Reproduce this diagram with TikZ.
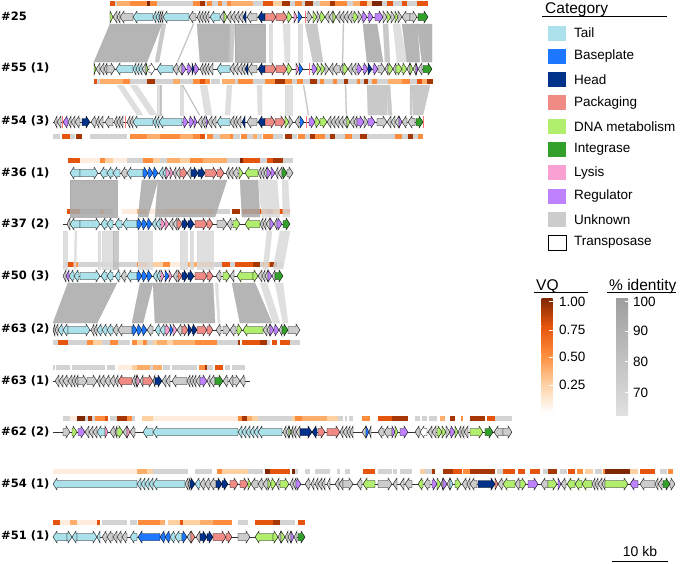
\documentclass[tikz,border=0pt]{standalone}
\usepackage{fontspec}
\setmainfont{Liberation Sans}
\newfontfamily\lblfont{DejaVu Sans}
\usepackage{tikz}
\usepackage{xcolor}

\definecolor{catT}{HTML}{ABE1EA}
\definecolor{catB}{HTML}{1E78FF}
\definecolor{catH}{HTML}{02318A}
\definecolor{catP}{HTML}{F08A85}
\definecolor{catD}{HTML}{B2EE6E}
\definecolor{catI}{HTML}{33A02C}
\definecolor{catL}{HTML}{FAA0D2}
\definecolor{catR}{HTML}{BE82FF}
\definecolor{catU}{HTML}{CCCCCC}
\definecolor{catX}{HTML}{FFFFFF}
\definecolor{vq0}{HTML}{D3D3D3}
\definecolor{vq1}{HTML}{FEEDDE}
\definecolor{vq2}{HTML}{FDD0A2}
\definecolor{vq3}{HTML}{FDAE6B}
\definecolor{vq4}{HTML}{FD8D3C}
\definecolor{vq5}{HTML}{E6550D}
\definecolor{vq6}{HTML}{A63603}
\definecolor{vq7}{HTML}{7F2704}
\definecolor{id1}{HTML}{A8A8A8}
\definecolor{id2}{HTML}{BFBFBF}
\definecolor{id3}{HTML}{D9D9D9}

% x1, x2, direction, category, track y
\newcommand{\drawgene}[5]{%
  \pgfmathsetmacro\hd{min(4,#2-#1)}%
  \ifnum#3>0
    \filldraw[genebox, fill=cat#4] (#1,#5-3.5) -- ({#2-\hd},#5-3.5) -- ({#2-\hd},#5-6)
      -- (#2,#5) -- ({#2-\hd},#5+6) -- ({#2-\hd},#5+3.5) -- (#1,#5+3.5) -- cycle;
  \else
    \filldraw[genebox, fill=cat#4] (#2,#5-3.5) -- ({#1+\hd},#5-3.5) -- ({#1+\hd},#5-6)
      -- (#1,#5) -- ({#1+\hd},#5+6) -- ({#1+\hd},#5+3.5) -- (#2,#5+3.5) -- cycle;
  \fi}
\newcommand{\genetrack}[4]{%
  \draw[backbone] (#2,#1) -- (#3,#1);
  \foreach \xa/\xb/\dd/\cc in {#4} {\drawgene{\xa}{\xb}{\dd}{\cc}{#1}}}
\newcommand{\vqbar}[2]{%
  \foreach \xa/\xb/\lv in {#2} {\fill[fill=vq\lv] (\xa,#1-2.5) rectangle (\xb,#1+2.5);}}
\newcommand{\idband}[3]{%
  \foreach \ta/\tb/\ba/\bb/\sh in {#3}
    {\filldraw[idfill, fill=id\sh, draw=id\sh] (\ta,#1) -- (\tb,#1) -- (\bb,#2) -- (\ba,#2) -- cycle;}}

\begin{document}
\begin{tikzpicture}[
  x=1pt, y=-1pt,
  font=\fontsize{13.5}{16}\selectfont,
  lbl/.style={anchor=west, inner sep=0pt, font=\lblfont\bfseries\fontsize{11.5}{13}\selectfont},
  genebox/.style={draw=black, line width=0.4pt, line join=miter},
  backbone/.style={draw=black!80, line width=0.5pt},
  idfill/.style={line width=0.3pt, fill opacity=0.85, draw opacity=0.85},
  insmark/.style={draw=red!55, line width=0.6pt},
  legtext/.style={anchor=west, inner sep=0pt},
  legtitle/.style={anchor=base west, inner sep=0pt, font=\fontsize{15.5}{18}\selectfont}
]
\useasboundingbox (0,0) rectangle (685,563);

% quality bars
\vqbar{3.5}{110/115/5, 115/117/0, 117/130/3, 130/147/4, 147/150/7, 150/157/4, 157/193/0, 193/200/4, 200/205/6, 205/207/0, 207/212/4, 212/218/0, 218/222/4, 222/227/0, 227/231/4, 231/253/3, 253/263/0, 263/273/5, 273/282/2, 282/290/6, 290/295/0, 295/302/4, 302/305/0, 305/313/6, 313/320/0, 320/330/3, 330/335/6, 335/347/4, 347/353/0, 353/360/3, 360/367/5, 367/372/2, 372/382/7, 382/387/0, 387/393/5, 393/402/0, 402/407/5, 407/417/0, 417/428/5}
\vqbar{81}{94/97/5, 97/100/0, 100/123/3, 123/130/4, 130/147/0, 147/155/6, 155/173/0, 173/180/3, 180/193/0, 193/200/4, 200/205/5, 205/210/4, 211/220/0, 222/235/3, 235/238/0, 238/253/4, 253/265/0, 265/275/4, 275/285/6, 285/292/4, 292/297/0, 297/303/4, 303/310/0, 310/317/6, 317/320/0, 320/324/4, 324/333/0, 333/337/4, 337/344/0, 344/348/6, 348/357/0, 357/360/4, 360/364/0, 364/368/6, 368/372/0, 372/377/4, 377/388/0, 388/402/3, 402/410/4, 410/417/0, 417/422/5, 422/427/3, 427/433/6}
\vqbar{136}{53/60/0, 62/70/5, 70/75/0, 76/82/6, 90/127/0, 130/147/4, 147/160/3, 160/180/4, 180/193/3, 193/200/4, 200/205/5, 207/213/4, 213/220/0, 220/230/3, 230/233/4, 233/240/0, 241/247/4, 247/253/0, 253/257/3, 257/262/0, 263/273/4, 273/283/0, 285/292/6, 292/297/0, 298/305/4, 305/310/0, 310/315/6, 315/325/4, 325/330/0, 330/335/6, 335/345/0, 345/352/4, 352/360/0, 360/367/6, 367/395/0, 395/402/4, 402/408/0, 408/413/6, 413/418/0, 418/423/4}
\vqbar{160}{68/80/5, 80/100/1, 100/105/4, 105/113/2, 113/127/1, 127/143/0, 143/153/4, 153/160/2, 160/167/0, 167/180/3, 180/190/2, 190/203/4, 203/227/3, 227/240/0, 240/243/7, 243/260/5, 260/267/0, 267/273/5, 273/283/6, 283/293/0}
\vqbar{211}{67/80/5, 80/100/0, 100/104/4, 104/113/0, 122/137/1, 137/147/3, 147/157/1, 157/167/2, 167/213/3, 213/230/0, 232/240/6, 242/267/5, 267/273/6, 273/280/4, 280/290/5}
\vqbar{264}{63/67/0, 67/73/5, 73/78/4, 78/137/0, 137/147/4, 147/150/0, 150/163/2, 163/170/4, 170/187/1, 187/213/3, 213/222/0, 222/230/5, 230/235/0, 235/253/5, 253/260/6, 260/263/0, 263/270/4, 270/277/6, 277/283/0}
\vqbar{342}{53/58/0, 58/68/5, 68/87/0, 87/93/4, 93/102/2, 102/110/0, 110/118/4, 118/130/0, 132/137/4, 137/143/2, 143/147/4, 147/153/0, 153/157/2, 157/167/3, 167/173/2, 173/195/3, 195/217/4, 217/238/0, 238/240/6, 242/260/5, 260/267/6, 267/270/0, 272/277/5, 280/290/5, 290/300/0}
\vqbar{367}{53/55/0, 56/70/0, 72/105/0, 107/115/0, 118/132/1, 132/137/2, 137/150/3, 150/153/0, 153/162/3, 163/170/0, 172/197/0, 199/205/4, 205/207/6, 207/213/0, 215/223/5, 225/230/0, 232/245/0}
\vqbar{418}{63/70/0, 70/77/1, 77/85/7, 85/88/0, 88/92/6, 92/95/0, 95/105/4, 105/108/5, 110/117/0, 117/127/6, 127/132/4, 132/135/0, 142/153/2, 153/238/1, 238/242/4, 242/247/6, 247/252/3, 252/258/2, 258/292/0, 292/295/2, 295/302/4, 302/327/3, 327/338/2, 338/343/0, 345/347/0, 349/353/0, 362/370/4, 378/392/5, 392/408/6, 415/420/0, 422/427/0, 429/437/0, 440/445/3, 450/455/6, 461/463/4, 470/485/6, 487/495/5, 495/512/0}
\vqbar{471}{53/137/1, 137/147/3, 147/153/2, 153/188/0, 195/212/0, 217/222/4, 222/248/2, 248/263/0, 265/270/7, 270/290/5, 292/295/7, 295/298/0, 305/310/0, 315/330/0, 337/340/0, 345/350/0, 363/375/5, 378/392/0, 393/397/0, 400/412/0, 420/425/2, 425/432/0, 432/435/6, 443/453/6, 453/462/5, 463/470/4, 470/495/6, 497/503/0, 503/515/5, 518/525/5, 530/540/5, 543/548/0, 548/557/6, 560/567/0, 568/575/5, 577/583/4, 585/593/2, 595/602/0, 603/605/4, 605/630/7, 630/638/2, 640/655/5, 660/667/0, 668/673/4}
\vqbar{522}{53/60/5, 60/70/1, 70/77/3, 77/97/1, 97/100/5, 102/127/0, 130/137/0, 138/160/4, 160/165/3, 168/180/2, 180/183/5, 183/200/2, 200/213/3, 213/232/4, 238/248/0, 255/273/5, 273/280/6, 280/295/0, 298/305/5}

% identity bands
\idband{24}{62}{110/162/94/147/1, 162/166/155/159/2, 193/194/177/178/2, 197/230/200/230/1, 230/235/228/233/2, 235/265/235/265/1, 269/272/269/272/3, 283/290/285/290/3, 298/302/298/302/3, 305/317/313/323/2, 343/344/342/343/2, 363/377/367/383/1, 383/388/385/390/2, 393/400/397/407/3, 402/417/407/420/1, 417/432/422/432/1}
\idband{85}{115}{117/123/137/143/3, 130/137/150/157/3, 157/160/157/160/3, 160/161/160/161/2, 180/183/180/183/3, 182/183/199/200/2, 200/207/205/212/3, 227/232/225/230/3, 257/262/258/262/3, 285/292/285/292/3, 303/304/308/309/2, 345/346/346/347/2, 367/387/368/387/2, 387/390/388/392/2, 410/413/410/412/2, 413/430/413/423/2}
\idband{180}{217}{70/117/70/117/1, 142/158/138/148/1, 158/227/155/215/1, 240/258/242/260/1, 258/267/262/270/3, 267/277/270/280/3, 282/288/283/290/3}
\idband{231}{269}{63/67/63/67/3, 75/77/74/76/3, 98/100/98/100/3, 102/113/102/113/3, 113/118/113/118/2, 138/152/138/152/3, 180/187/180/187/3, 190/193/190/193/3, 197/213/197/213/3, 267/272/263/268/3, 280/290/273/283/3}
\idband{283}{323}{68/117/53/97/1, 140/153/132/143/1, 153/213/155/215/1, 215/218/218/220/3, 232/255/240/272/1, 260/267/273/280/3, 275/283/283/288/3}

% genomes
\genetrack{17}{110}{428}{110/113/1/D, 113/117/-1/U, 117/120/-1/U, 120/133/-1/U, 133/153/-1/T, 153/156/-1/T, 156/159/-1/T, 159/161/-1/U, 161/163/-1/U, 163/189/-1/T, 189/196/-1/U, 197/200/-1/U, 200/203/-1/U, 203/206/-1/U, 206/209/-1/U, 210/220/-1/T, 220/224/-1/U, 224/227/1/D, 227/231/-1/U, 231/235/-1/U, 235/239/-1/U, 239/243/-1/U, 243/246/-1/H, 247/257/-1/U, 258/265/-1/H, 265/276/1/P, 276/287/1/P, 287/292/1/D, 294/297/1/L, 298/302/1/B, 307/312/1/U, 313/317/1/D, 317/320/1/U, 320/325/1/D, 325/329/-1/U, 329/333/-1/U, 333/336/1/D, 336/340/-1/U, 340/344/-1/U, 344/348/-1/U, 348/352/-1/U, 353/358/1/D, 358/362/1/U, 362/367/1/R, 368/373/1/R, 375/383/1/R, 383/387/1/U, 387/391/1/D, 391/395/1/U, 395/398/1/D, 398/402/1/U, 402/410/-1/U, 410/417/1/U, 418/428/1/I}
\genetrack{69}{94}{432}{94/96/1/D, 96/100/-1/U, 100/104/-1/U, 104/107/-1/U, 107/115/1/U, 116/133/-1/T, 133/136/-1/T, 136/139/-1/T, 139/142/-1/T, 142/146/-1/U, 146/148/1/D, 149/155/1/X, 157/173/-1/T, 173/178/-1/U, 178/182/-1/U, 182/186/1/R, 187/192/1/R, 192/194/1/H, 194/199/1/R, 200/203/-1/U, 203/206/-1/U, 206/209/-1/U, 209/213/-1/U, 217/230/-1/T, 230/234/-1/U, 234/238/-1/U, 238/242/-1/U, 242/245/-1/U, 245/248/-1/H, 248/257/-1/U, 258/265/-1/H, 265/276/1/P, 276/287/1/P, 287/292/1/D, 296/299/1/L, 299/303/1/B, 312/317/1/R, 317/321/1/D, 321/325/1/D, 325/329/1/U, 329/333/-1/U, 333/340/-1/U, 340/343/-1/U, 343/348/1/D, 348/352/-1/U, 352/356/-1/U, 357/362/1/R, 363/368/1/R, 368/372/1/H, 373/378/1/R, 378/385/1/U, 385/388/-1/U, 388/393/1/D, 393/396/-1/U, 396/402/1/D, 402/407/1/D, 407/410/-1/U, 410/413/1/D, 413/416/-1/U, 416/418/1/R, 418/422/-1/U, 423/432/1/I}
\genetrack{122}{53}{423}{54/57/-1/U, 57/61/-1/U, 63/68/-1/R, 68/71/-1/U, 71/75/-1/U, 75/80/-1/U, 82/90/1/H, 91/96/-1/U, 96/99/-1/U, 99/103/-1/U, 105/113/-1/U, 114/117/-1/U, 117/120/-1/U, 120/123/-1/U, 127/130/-1/U, 130/133/-1/U, 133/153/-1/T, 153/156/-1/T, 156/159/-1/T, 159/182/-1/T, 183/188/1/R, 189/194/1/R, 194/197/1/R, 198/202/-1/U, 202/205/-1/U, 206/208/1/R, 208/212/-1/U, 212/216/-1/U, 217/230/-1/T, 230/234/-1/U, 234/237/-1/U, 237/241/-1/U, 242/245/-1/H, 247/257/-1/U, 258/265/-1/H, 265/275/1/P, 275/285/1/P, 285/289/1/D, 289/293/1/U, 295/299/-1/U, 300/304/1/B, 309/315/1/R, 315/320/1/D, 320/327/1/D, 327/331/-1/U, 331/335/-1/U, 335/339/-1/U, 339/343/-1/U, 343/347/-1/U, 347/350/1/D, 350/354/-1/U, 354/357/-1/U, 357/364/1/R, 364/368/1/U, 368/375/1/R, 377/387/1/U, 387/391/-1/U, 391/395/-1/U, 395/399/-1/U, 399/402/1/R, 402/407/-1/U, 408/415/-1/U, 416/423/1/I}
\genetrack{173}{70}{293}{70/80/-1/T, 80/98/1/T, 100/107/-1/T, 107/113/-1/T, 113/120/-1/T, 121/127/-1/U, 127/143/-1/T, 143/148/1/B, 148/153/1/B, 153/158/1/B, 159/163/-1/T, 163/166/-1/T, 166/170/1/L, 170/173/1/L, 173/176/-1/U, 176/180/-1/U, 180/187/1/P, 187/191/-1/U, 191/198/1/H, 198/205/1/H, 205/217/1/P, 217/224/1/P, 226/229/-1/U, 229/233/-1/U, 233/238/-1/U, 239/243/1/D, 245/258/-1/D, 258/261/-1/U, 261/264/-1/U, 264/267/-1/U, 267/271/1/R, 271/275/1/R, 275/278/-1/U, 278/282/-1/U, 282/287/1/I, 287/293/1/U}
\genetrack{224}{63}{290}{67/70/-1/U, 70/80/-1/T, 80/100/1/T, 101/107/-1/T, 107/113/-1/T, 115/122/-1/T, 123/137/-1/T, 137/142/1/B, 142/147/1/B, 147/152/1/B, 152/156/-1/T, 156/160/-1/T, 161/165/1/L, 165/169/1/L, 169/173/-1/U, 173/177/-1/U, 177/182/1/P, 182/188/1/H, 188/194/1/H, 195/207/1/P, 207/213/1/P, 217/227/1/U, 227/232/-1/U, 233/240/1/D, 245/260/-1/D, 260/263/-1/U, 263/266/-1/U, 266/270/-1/U, 270/274/1/R, 274/277/-1/U, 277/282/1/R, 283/290/1/I}
\genetrack{276}{63}{283}{63/66/-1/U, 66/69/-1/R, 69/74/-1/T, 74/79/-1/T, 80/100/1/T, 101/107/-1/T, 107/113/-1/T, 115/120/-1/T, 121/126/-1/U, 127/137/-1/T, 137/142/1/B, 142/147/1/B, 147/152/1/B, 153/157/-1/T, 157/160/-1/T, 161/164/1/L, 165/169/1/B, 169/172/1/L, 173/177/-1/U, 178/182/1/P, 182/188/1/H, 188/194/1/H, 195/207/1/P, 207/213/1/P, 216/221/-1/U, 223/230/1/D, 230/234/-1/U, 237/253/-1/D, 253/258/1/D, 258/262/-1/U, 262/265/-1/U, 265/268/-1/U, 268/272/1/R, 272/275/-1/U, 275/283/1/I}
\genetrack{330}{53}{300}{53/55/-1/U, 55/58/-1/U, 58/63/-1/T, 63/68/-1/T, 68/90/1/T, 91/94/-1/U, 94/97/-1/U, 97/102/-1/T, 102/107/-1/T, 107/113/-1/T, 113/118/-1/U, 118/132/-1/U, 132/137/1/B, 137/142/1/B, 142/147/1/B, 147/153/-1/U, 155/160/-1/T, 160/165/-1/T, 165/170/1/L, 170/173/1/B, 173/177/1/L, 177/182/-1/U, 182/188/1/P, 188/192/1/H, 192/197/1/H, 197/207/1/P, 207/213/1/P, 216/221/-1/U, 223/230/1/U, 230/236/-1/U, 237/242/1/D, 243/263/-1/D, 263/267/-1/U, 267/270/-1/U, 270/274/1/R, 274/279/1/R, 279/282/-1/U, 282/288/1/I, 288/300/1/U}
\genetrack{381}{53}{250}{55/59/-1/U, 59/63/-1/U, 63/68/-1/U, 68/72/-1/U, 72/75/-1/U, 75/78/-1/U, 78/87/1/U, 87/97/1/U, 97/100/-1/U, 100/105/-1/U, 105/110/-1/U, 110/115/-1/U, 115/118/-1/U, 118/132/-1/P, 132/135/-1/U, 135/137/-1/U, 137/140/1/L, 140/143/-1/U, 143/153/1/P, 153/155/-1/U, 155/162/1/H, 162/166/-1/U, 166/170/-1/U, 172/187/-1/U, 187/190/-1/U, 190/193/-1/U, 193/196/-1/U, 196/200/-1/U, 200/207/1/R, 207/210/-1/U, 210/215/-1/U, 215/223/1/I, 223/228/-1/U, 229/233/-1/U, 233/240/1/U, 240/245/-1/U}
\genetrack{432}{53}{512}{63/70/1/U, 72/77/1/D, 78/85/1/R, 85/89/-1/U, 89/93/-1/U, 93/97/-1/U, 97/105/-1/T, 105/108/1/L, 110/115/-1/U, 115/117/-1/U, 117/123/1/D, 123/127/-1/U, 127/130/1/L, 130/135/-1/U, 143/153/-1/T, 153/238/-1/T, 238/242/-1/T, 242/246/-1/T, 246/250/-1/T, 250/254/-1/T, 254/258/-1/T, 258/282/-1/T, 283/286/-1/U, 286/289/-1/U, 289/291/1/D, 291/293/-1/U, 293/296/-1/U, 296/300/-1/U, 300/312/1/H, 312/317/-1/H, 318/325/1/P, 327/340/1/P, 340/343/-1/U, 343/347/-1/U, 347/350/-1/U, 350/353/-1/U, 362/366/-1/U, 366/369/1/B, 369/371/-1/U, 378/384/-1/U, 384/392/-1/U, 392/395/1/R, 395/398/1/D, 400/408/1/R, 415/420/-1/U, 420/427/-1/X, 428/432/-1/U, 432/436/-1/U, 437/442/1/D, 442/446/1/D, 446/450/1/U, 450/455/1/R, 455/458/1/D, 458/461/-1/U, 461/464/-1/U, 464/468/-1/U, 470/483/1/D, 485/493/1/I, 494/503/-1/U, 503/512/1/U}
\genetrack{484}{53}{675}{53/137/-1/T, 137/141/-1/T, 141/145/-1/T, 145/149/-1/T, 149/153/-1/T, 153/185/-1/T, 185/188/-1/U, 188/190/-1/U, 190/195/1/H, 195/200/-1/T, 200/205/-1/U, 205/210/-1/U, 210/216/-1/U, 216/222/1/H, 222/228/1/H, 230/238/1/P, 240/248/1/P, 248/251/1/D, 251/258/-1/U, 258/263/-1/U, 263/268/-1/U, 268/271/1/D, 271/276/1/D, 276/279/-1/U, 280/289/1/D, 290/293/-1/U, 293/296/-1/U, 296/301/1/R, 305/310/-1/U, 311/314/-1/U, 315/318/-1/U, 318/322/-1/U, 322/325/-1/U, 327/330/-1/U, 335/339/-1/U, 339/343/-1/U, 343/353/1/U, 357/362/-1/U, 363/375/-1/D, 378/392/1/U, 393/397/-1/U, 400/404/-1/U, 405/412/-1/U, 418/423/-1/D, 424/430/-1/U, 432/437/1/R, 437/441/1/D, 441/443/-1/U, 443/447/1/R, 447/450/-1/U, 450/453/1/T, 455/461/1/D, 462/467/-1/U, 467/470/-1/U, 470/477/-1/U, 478/495/1/H, 495/498/1/P, 498/503/-1/U, 503/515/-1/D, 515/520/-1/U, 520/526/1/D, 528/538/1/R, 541/548/-1/U, 548/557/1/D, 558/561/1/R, 561/566/-1/U, 567/575/-1/D, 575/582/-1/D, 582/592/-1/D, 592/595/-1/U, 595/598/-1/U, 598/602/-1/U, 602/605/-1/U, 605/628/1/D, 630/638/-1/R, 640/655/-1/U, 655/658/-1/U, 658/662/-1/U, 663/670/1/I, 670/675/1/U}
\genetrack{537}{53}{305}{53/67/-1/T, 67/72/1/T, 72/77/-1/T, 77/97/1/T, 97/100/-1/T, 102/107/-1/U, 107/113/-1/U, 113/117/-1/U, 117/122/-1/U, 122/127/-1/U, 130/137/-1/T, 138/160/-1/B, 160/165/-1/B, 165/170/-1/B, 170/175/-1/T, 175/182/-1/T, 182/187/1/B, 187/191/-1/U, 191/195/1/P, 196/200/-1/U, 200/207/1/H, 207/213/1/H, 213/226/1/P, 226/232/1/P, 238/250/1/U, 255/273/-1/D, 273/278/1/D, 278/281/-1/U, 281/285/1/D, 285/288/-1/U, 288/291/-1/U, 291/294/1/R, 294/297/-1/U, 298/305/1/I}

\foreach \xm/\ym in {305/17, 309/69, 62/122, 125/122, 306/122, 423/122}
  \draw[insmark] (\xm,\ym-6) -- (\xm,\ym+6);

% genome labels
\node[lbl] (g25) at (1,16) {\#25};
\node[lbl] (g55) at (1,68) {\#55 (1)};
\node[lbl] (g54c) at (1,121) {\#54 (3)};
\node[lbl] (g36) at (1,173) {\#36 (1)};
\node[lbl] (g37) at (1,224) {\#37 (2)};
\node[lbl] (g50) at (1,276) {\#50 (3)};
\node[lbl] (g63b) at (1,329) {\#63 (2)};
\node[lbl] (g63a) at (1,381) {\#63 (1)};
\node[lbl] (g62) at (1,432) {\#62 (2)};
\node[lbl] (g54a) at (1,484) {\#54 (1)};
\node[lbl] (g51) at (1,536) {\#51 (1)};

% category legend
\node[legtitle] (cattitle) at (545,13) {Category};
\draw[line width=0.6pt] (542,16) -- (667,16);
\foreach \cc/\tt [count=\i] in {T/Tail, B/Baseplate, H/Head, P/Packaging, D/DNA metabolism, I/Integrase, L/Lysis, R/Regulator, U/Unknown, X/Transposase} {
  \pgfmathsetmacro\yy{33+(\i-1)*23.3}
  \fill[fill=cat\cc] (548,\yy-7.5) rectangle (566,\yy+7.5);
  \node[legtext] (leg\i) at (574,\yy) {\tt};
}
\draw[line width=0.5pt] (548,242.7-7.5) rectangle (566,242.7+7.5);

% colour scales
\node[legtitle] (vqtitle) at (536,290) {VQ};
\draw[line width=0.6pt] (534,292.5) -- (588,292.5);
\shade[top color=vq7, bottom color=vq5] (541.5,298) rectangle (552.5,326.5);
\shade[top color=vq5, bottom color=vq4] (541.5,326.5) rectangle (552.5,355);
\shade[top color=vq4, bottom color=vq2] (541.5,355) rectangle (552.5,383.5);
\shade[top color=vq2, bottom color=white] (541.5,383.5) rectangle (552.5,413);
\foreach \tv/\yv [count=\i] in {1.00/301.5, 0.75/330, 0.50/357, 0.25/385} {
  \draw[white, line width=0.6pt] (549,\yv) -- (552.5,\yv);
  \node[legtext] (vq\i) at (559,\yv) {\tv};
}
\node[legtitle] (idtitle) at (609,290) {\% identity};
\draw[line width=0.6pt] (607,292.5) -- (676,292.5);
\shade[top color=black!38, bottom color=black!12] (616,298) rectangle (628,415);
\foreach \tv/\yv [count=\i] in {100/301.5, 90/331, 80/361.5, 70/392.5} {
  \draw[white, line width=0.6pt] (624.5,\yv) -- (628,\yv);
  \node[legtext] (id\i) at (633,\yv) {\tv};
}

% scale bar
\draw[line width=0.8pt] (612,561) coordinate (sbl) -- (668,561) coordinate (sbr);
\node[anchor=base, inner sep=0pt, font=\fontsize{14}{16}\selectfont] (sbtext) at (640,556) {10 kb};
\end{tikzpicture}
\end{document}
